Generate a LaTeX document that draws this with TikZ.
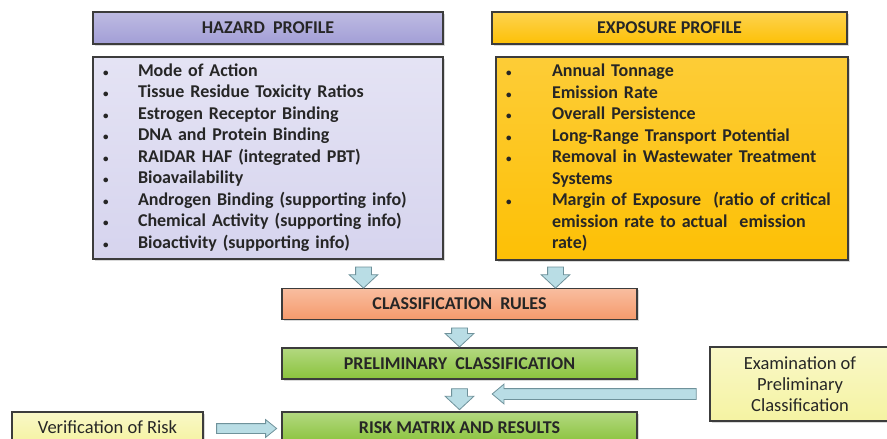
\documentclass[tikz,border=0pt]{standalone}
\usepackage{fontspec}
\setmainfont{Carlito}
\usetikzlibrary{calc,shapes.arrows,shadows}

\definecolor{hazdark}{HTML}{A29ED6}
\definecolor{hazlight}{HTML}{D6D4EE}
\definecolor{expgold}{HTML}{FDC005}
\definecolor{rulesorange}{HTML}{F59A6C}
\definecolor{stepgreen}{HTML}{8AC33C}
\definecolor{notepale}{HTML}{F5F3A2}
\definecolor{arrowblue}{HTML}{B9DDE5}
\definecolor{arrowedge}{HTML}{6F929B}
\definecolor{boxedge}{HTML}{3C3C3C}
\definecolor{inkgray}{HTML}{262626}

\newcommand{\itemdot}{{\fontsize{11}{11}\selectfont\textbullet}}

\tikzset{
  box/.style={draw=boxedge, line width=1.2pt, inner sep=0pt, text=inkgray,
    drop shadow={opacity=0.3, shadow xshift=1.5pt, shadow yshift=-1.5pt}},
  header/.style={box, minimum height=32pt, font=\bfseries\fontsize{18}{21}\selectfont},
  stagebox/.style={box, minimum width=355pt, minimum height=31pt,
    font=\bfseries\fontsize{18}{21}\selectfont},
  listbox/.style={box, inner xsep=10pt, font=\bfseries\fontsize{18}{21.5}\selectfont},
  notebox/.style={box, top color=notepale!60!white, bottom color=notepale,
    font=\fontsize{18.5}{21}\selectfont, align=center},
  blockarrow/.style={shape=single arrow, draw=arrowedge, fill=arrowblue, line width=0.8pt,
    text height=0pt, text depth=0pt, inner xsep=0pt},
  downarrow/.style={blockarrow, rotate=-90, minimum height=21pt, inner ysep=7.5pt,
    single arrow head extend=6.5pt, single arrow tip angle=94},
  sidearrow/.style={blockarrow, inner ysep=5pt, single arrow head extend=4.5pt,
    single arrow tip angle=80}
}

\begin{document}
\begin{tikzpicture}[x=1pt, y=-1pt] % y runs downwards, as in the picture
  \useasboundingbox (0,0) rectangle (887,439);

  % Profile headers
  \node[header, minimum width=350pt, top color=hazdark!70!white, bottom color=hazdark] (hazhead) at (268,28) {HAZARD\ \ PROFILE};
  \node[header, minimum width=355pt, top color=expgold!70!white, bottom color=expgold] (exphead) at (669.5,28) {EXPOSURE PROFILE};

  % Profile lists
  \node[listbox, minimum width=350pt, minimum height=202pt, text width=330pt,
        top color=hazlight!65!white, bottom color=hazlight] (hazbody) at (268,158) {%
    \begin{tabular}{@{}p{35pt}@{}l@{}}
      \itemdot & Mode of Action\\
      \itemdot & Tissue Residue Toxicity Ratios\\
      \itemdot & Estrogen Receptor Binding\\
      \itemdot & DNA and Protein Binding\\
      \itemdot & RAIDAR HAF (integrated PBT)\\
      \itemdot & Bioavailability\\
      \itemdot & Androgen Binding (supporting info)\\
      \itemdot & Chemical Activity (supporting info)\\
      \itemdot & Bioactivity (supporting info)
    \end{tabular}};
  \node[listbox, minimum width=352pt, minimum height=203pt, text width=332pt,
        top color=expgold!80!white, bottom color=expgold] (expbody) at (672,158.5) {%
    \begin{tabular}{@{}p{46pt}@{}l@{}}
      \itemdot & Annual Tonnage\\
      \itemdot & Emission Rate\\
      \itemdot & Overall Persistence\\
      \itemdot & Long-Range Transport Potential\\
      \itemdot & Removal in Wastewater Treatment\\
               & Systems\\
      \itemdot & Margin of Exposure\ \ (ratio of critical\\
               & emission rate to actual\ \ emission\\
               & rate)
    \end{tabular}};

  % Classification steps
  \node[stagebox, top color=rulesorange!65!white, bottom color=rulesorange] (rules) at (459.5,304) {CLASSIFICATION\ \ RULES};
  \node[stagebox, top color=stepgreen!65!white, bottom color=stepgreen] (prelim) at (459.5,363.5) {PRELIMINARY\ \ CLASSIFICATION};
  \node[stagebox, top color=stepgreen!65!white, bottom color=stepgreen] (risk) at (459.5,427.5) {RISK MATRIX AND RESULTS};

  % Side notes
  \node[notebox, minimum width=180pt, minimum height=74pt] (exam) at (800,384) {Examination of\\Preliminary\\Classification};
  \node[notebox, minimum width=191pt, minimum height=31pt] (verif) at (107.5,427.5) {Verification of Risk};

  % Block arrows
  \path (rules.north) ++(-96,-14) node[downarrow] (hazarrow) {};
  \path (rules.north) ++(96,-14) node[downarrow] (exparrow) {};
  \path (rules) -- (prelim) node[midway, downarrow, minimum height=19pt] (rulesarrow) {};
  \path (prelim) -- (risk) node[midway, downarrow] (prelimarrow) {};
  \path (exam.west) ++(-112,10) node[sidearrow, rotate=180, minimum height=204pt] (examarrow) {};
  \path (verif.east) ++(40,1) node[sidearrow, inner ysep=4.5pt, single arrow head extend=4pt,
        minimum height=60pt, single arrow tip angle=78] (verifarrow) {};

\end{tikzpicture}
\end{document}
